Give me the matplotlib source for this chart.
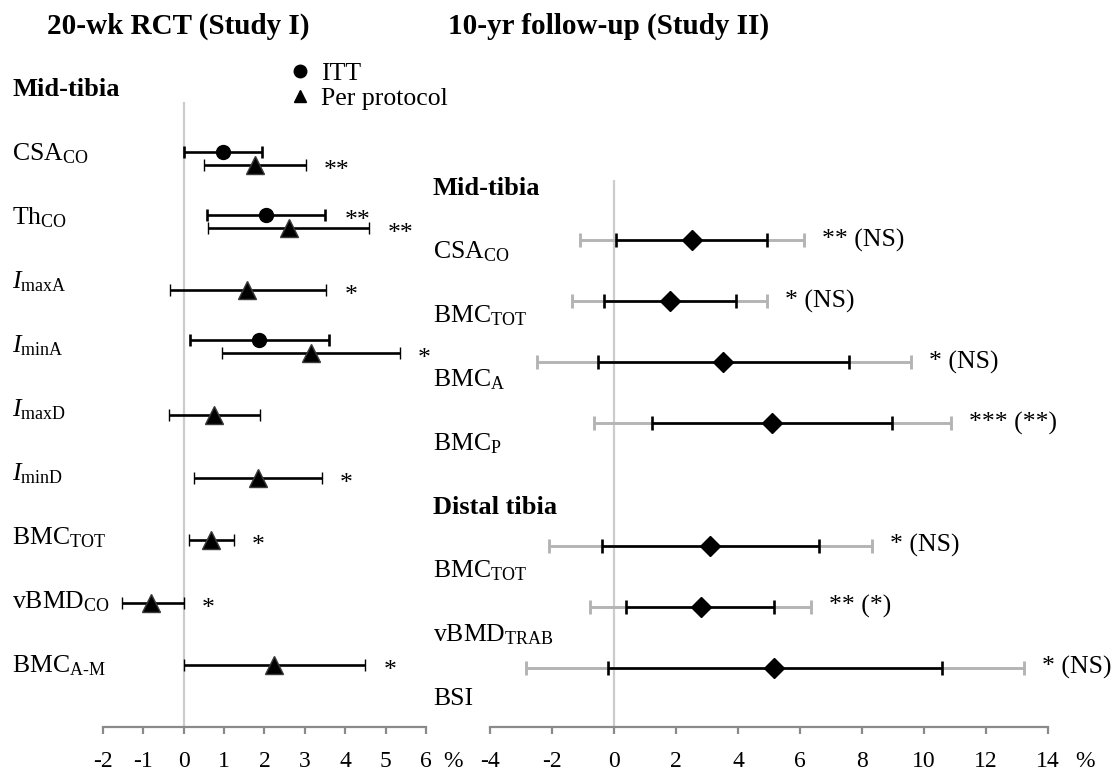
import matplotlib.pyplot as plt
import numpy as np
from matplotlib.lines import Line2D
from matplotlib.transforms import blended_transform_factory

plt.rcParams['font.family'] = ['Liberation Serif', 'DejaVu Serif']
plt.rcParams['mathtext.fontset'] = 'custom'
plt.rcParams['mathtext.rm'] = 'Liberation Serif'
plt.rcParams['mathtext.it'] = 'Liberation Serif:italic'
plt.rcParams['mathtext.bf'] = 'Liberation Serif:bold'
plt.rcParams['axes.unicode_minus'] = False

# Study I: 20-wk RCT, mid-tibia (% difference, 95% CI)
rct_labels = [r'CSA$_\mathrm{CO}$', r'Th$_\mathrm{CO}$', r'$I_\mathrm{maxA}$', r'$I_\mathrm{minA}$',
              r'$I_\mathrm{maxD}$', r'$I_\mathrm{minD}$', r'BMC$_\mathrm{TOT}$', r'vBMD$_\mathrm{CO}$',
              r'BMC$_\mathrm{A\text{-}M}$']
itt_mean = [0.97, 2.03, np.nan, 1.86, np.nan, np.nan, np.nan, np.nan, np.nan]
itt_lo = [0.00, 0.57, np.nan, 0.15, np.nan, np.nan, np.nan, np.nan, np.nan]
itt_hi = [1.93, 3.51, np.nan, 3.59, np.nan, np.nan, np.nan, np.nan, np.nan]
itt_sig = ['', '**', '', '', '', '', '', '', '']
pp_mean = [1.76, 2.60, 1.57, 3.16, 0.75, 1.84, 0.67, -0.80, 2.24]
pp_lo = [0.50, 0.60, -0.33, 0.96, -0.37, 0.25, 0.13, -1.54, 0.00]
pp_hi = [3.02, 4.60, 3.53, 5.36, 1.90, 3.42, 1.24, 0.00, 4.50]
pp_sig = ['**', '**', '*', '*', '', '*', '*', '*', '*']
rct_ticks = list(range(-2, 7))

# Study II: 10-yr follow-up
fu_groups = ['Mid-tibia', 'Distal tibia']
fu_labels = [[r'CSA$_\mathrm{CO}$', r'BMC$_\mathrm{TOT}$', r'BMC$_\mathrm{A}$', r'BMC$_\mathrm{P}$'],
             [r'BMC$_\mathrm{TOT}$', r'vBMD$_\mathrm{TRAB}$', 'BSI']]
fu_mean = [2.52, 1.80, 3.53, 5.11, 3.10, 2.79, 5.17]
fu_lo = [0.07, -0.34, -0.51, 1.24, -0.39, 0.39, -0.20]
fu_hi = [4.94, 3.93, 7.59, 8.97, 6.60, 5.17, 10.57]
fu_lo_adj = [-1.09, -1.37, -2.49, -0.64, -2.10, -0.79, -2.84]
fu_hi_adj = [6.13, 4.94, 9.57, 10.86, 8.31, 6.36, 13.21]
fu_sig = ['** (NS)', '* (NS)', '* (NS)', '*** (**)', '* (NS)', '** (*)', '* (NS)']
fu_ticks = list(range(-4, 15, 2))

FS = 18.5
TITLE_FS = 21
TICK_FS = 17
SPINE = '#8a8a8a'
LIGHT = '#b4b4b4'
LW = 1.9

fig = plt.figure(figsize=(11.13, 7.76), dpi=100)
ax1 = fig.add_axes([0.0925, 0.0631, 0.2902, 0.8853])
ax2 = fig.add_axes([0.4403, 0.0631, 0.5013, 0.8853])


def style_axis(ax, ticks, pct_offset):
    ax.set_xlim(ticks[0], ticks[-1])
    ax.set_xticks(ticks)
    ax.set_yticks([])
    for side in ['top', 'left', 'right']:
        ax.spines[side].set_visible(False)
    ax.spines['bottom'].set_color(SPINE)
    ax.spines['bottom'].set_linewidth(1.6)
    ax.tick_params(axis='x', direction='out', length=5, width=1.6, color=SPINE,
                   labelsize=TICK_FS, pad=12.5)
    ax.patch.set_alpha(0)
    ax.annotate('%', xy=(1, 0), xycoords='axes fraction', xytext=(pct_offset, -17.5),
                textcoords='offset points', ha='center', va='top', fontsize=TICK_FS)


# ---- left panel ----
rows = np.arange(len(rct_labels))
ax1.set_ylim(9.096, -1.896)
style_axis(ax1, rct_ticks, 19.5)
ax1.vlines(0, -0.904, 9.096, color='#cccccc', lw=1.6, zorder=1)

itt_mean = np.array(itt_mean)
has_itt = ~np.isnan(itt_mean)
itt_y = rows[has_itt] - 0.104
ax1.errorbar(itt_mean[has_itt], itt_y,
             xerr=[itt_mean[has_itt] - np.array(itt_lo)[has_itt],
                   np.array(itt_hi)[has_itt] - itt_mean[has_itt]],
             fmt='o', color='black', ms=10, elinewidth=LW, capsize=4, capthick=LW, zorder=3)
pp_mean = np.array(pp_mean)
pp_y = rows + 0.104
ax1.errorbar(pp_mean, pp_y, xerr=[pp_mean - np.array(pp_lo), np.array(pp_hi) - pp_mean],
             fmt='^', color='black', mec='#3a3a3a', mew=1, ms=13, elinewidth=LW,
             capsize=4, capthick=LW, zorder=3)

for y, hi, s in zip(rows - 0.104, itt_hi, itt_sig):
    if s:
        ax1.annotate(s, xy=(hi, y), xytext=(14, -8.7), textcoords='offset points',
                     ha='left', va='baseline', fontsize=FS)
for y, hi, s in zip(pp_y, pp_hi, pp_sig):
    if s:
        ax1.annotate(s, xy=(hi, y), xytext=(13, -8.7), textcoords='offset points',
                     ha='left', va='baseline', fontsize=FS)

trans1 = blended_transform_factory(fig.transFigure, ax1.transData)
ax1.text(0.0108, -1.0, 'Mid-tibia', transform=trans1, fontsize=FS + 0.5, fontweight='bold',
         va='baseline')
for r, lab in zip(rows, rct_labels):
    ax1.text(0.0108, 0.024 + 1.024 * r, lab, transform=trans1, fontsize=FS, va='baseline')

handles = [Line2D([], [], ls='none', marker='o', color='black', ms=9),
           Line2D([], [], ls='none', marker='^', color='black', ms=9)]
ax1.legend(handles, ['ITT', 'Per protocol'], loc='upper left', frameon=False,
           bbox_to_anchor=(290 / 1113, 1 - 62 / 776), bbox_transform=fig.transFigure,
           fontsize=FS, handlelength=0.8, handletextpad=0.4, labelspacing=0.08,
           borderpad=0, borderaxespad=0)

# ---- right panel ----
fu_rows = np.array([0, 1, 2, 3, 5, 6, 7])
ax2.set_ylim(7.97, -3.273)
style_axis(ax2, fu_ticks, 26.5)
ax2.vlines(0, -0.98, 7.97, color='#cccccc', lw=1.6, zorder=1)

fu_mean = np.array(fu_mean)
ax2.errorbar(fu_mean, fu_rows,
             xerr=[fu_mean - np.array(fu_lo_adj), np.array(fu_hi_adj) - fu_mean],
             fmt='none', ecolor=LIGHT, elinewidth=2.1, capsize=4.7, capthick=2.1, zorder=2)
ax2.errorbar(fu_mean, fu_rows, xerr=[fu_mean - np.array(fu_lo), np.array(fu_hi) - fu_mean],
             fmt='D', color='black', ms=9.7, elinewidth=LW, capsize=4.7, capthick=LW,
             zorder=3)
for y, hi, s in zip(fu_rows, fu_hi_adj, fu_sig):
    ax2.annotate(s, xy=(hi, y), xytext=(13, 0), textcoords='offset points',
                 ha='left', va='center', fontsize=FS)

trans2 = blended_transform_factory(fig.transFigure, ax2.transData)
slot = 0
for group, labs in zip(fu_groups, fu_labels):
    ax2.text(0.389, -0.7365 + 1.0434 * slot, group, transform=trans2, fontsize=FS + 0.5,
             fontweight='bold', va='baseline')
    slot += 1
    for lab in labs:
        ax2.text(0.389, -0.7365 + 1.0434 * slot, lab, transform=trans2, fontsize=FS,
                 va='baseline')
        slot += 1

fig.text(47 / 1113, 1 - 34 / 776, '20-wk RCT (Study I)', fontsize=TITLE_FS, fontweight='bold',
         va='baseline')
fig.text(448 / 1113, 1 - 34 / 776, '10-yr follow-up (Study II)', fontsize=TITLE_FS,
         fontweight='bold', va='baseline')

fig.savefig('out.png', dpi=100)
